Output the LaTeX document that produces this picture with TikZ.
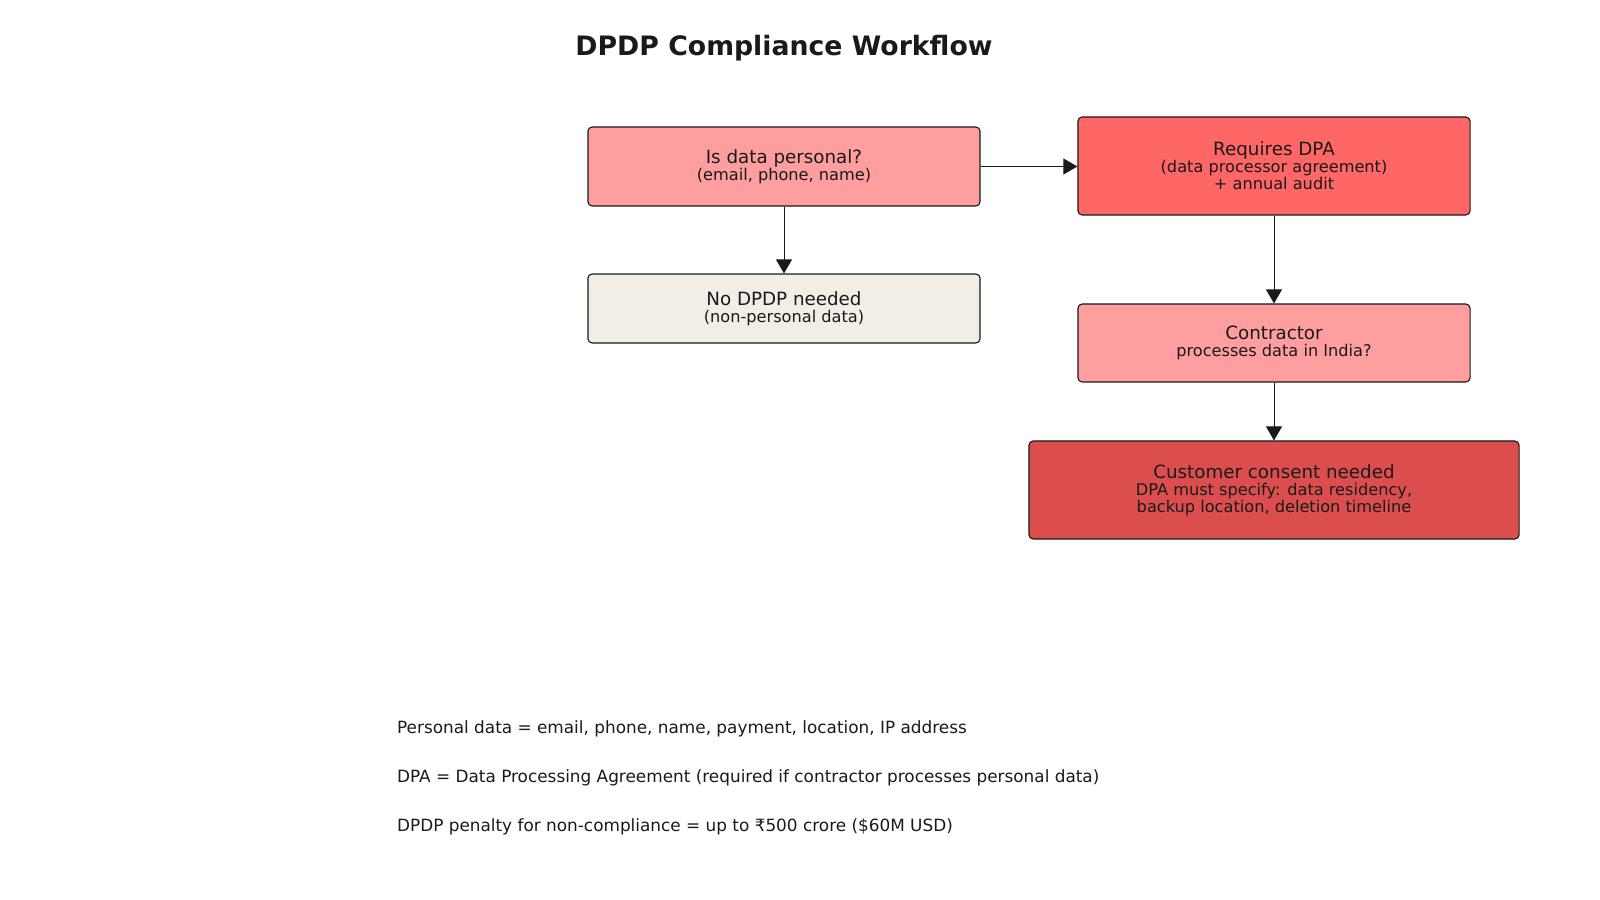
\documentclass[tikz,border=0pt]{standalone}
\usepackage{fontspec}
\setmainfont{DejaVu Sans}
\usetikzlibrary{arrows.meta,positioning}
\definecolor{pinkbox}{HTML}{FF9E9E}
\definecolor{redbox}{HTML}{FF6666}
\definecolor{darkred}{HTML}{DC4E4E}
\definecolor{beige}{HTML}{F2EEE6}
\definecolor{ink}{HTML}{1A1A1A}

\begin{document}
\begin{tikzpicture}[x=0.025cm, y=-0.025cm, >={Triangle[width=0.4cm,length=0.35cm]}, semithick,
    box/.style={draw=ink, rounded corners=3pt, align=center, text=ink, minimum width=9.8cm, inner sep=0pt, line width=0.8pt},
    note/.style={anchor=west, text=ink, font=\fontsize{12}{14}\selectfont}]
    \useasboundingbox (0,0) rectangle (1600,900);
    \node[text=ink, font=\bfseries\fontsize{19}{22}\selectfont] (title) at (784,48) {DPDP Compliance Workflow};

    \node[box, fill=pinkbox, minimum height=1.975cm] (personal) at (784,166.5)
        {{\fontsize{13}{18}\selectfont Is data personal?}\\{\fontsize{11.5}{14}\selectfont (email, phone, name)}};
    \node[box, fill=redbox, minimum height=2.45cm]  (dpa)      at (1274,166)
        {{\fontsize{13}{18}\selectfont Requires DPA}\\{\fontsize{11.5}{17}\selectfont (data processor agreement)}\\{\fontsize{11.5}{14}\selectfont + annual audit}};
    \node[box, fill=beige, minimum height=1.725cm]  (nodpdp)   at (784,308.5)
        {{\fontsize{13}{18}\selectfont No DPDP needed}\\{\fontsize{11.5}{14}\selectfont (non-personal data)}};
    \node[box, fill=pinkbox, minimum height=1.95cm] (contractor) at (1274,343)
        {{\fontsize{13}{18}\selectfont Contractor}\\{\fontsize{11.5}{14}\selectfont processes data in India?}};
    \node[box, fill=darkred, minimum height=2.45cm, minimum width=12.25cm] (consent) at (1274,490)
        {{\fontsize{13}{18}\selectfont Customer consent needed}\\{\fontsize{11.5}{17}\selectfont DPA must specify: data residency,}\\{\fontsize{11.5}{14}\selectfont backup location, deletion timeline}};

    \draw[->, draw=ink, fill=ink] (personal) -- (nodpdp);
    \draw[->, draw=ink, fill=ink] (personal.east) -- (personal.east -| dpa.west);
    \draw[->, draw=ink, fill=ink] (dpa) -- (contractor);
    \draw[->, draw=ink, fill=ink] (contractor) -- (consent);

    \node[note] (n1) at (392,729) {Personal data = email, phone, name, payment, location, IP address};
    \node[note] (n2) at (392,778) {DPA = Data Processing Agreement (required if contractor processes personal data)};
    \node[note] (n3) at (392,827) {DPDP penalty for non-compliance = up to ₹500 crore (\$60M USD)};
\end{tikzpicture}
\end{document}
